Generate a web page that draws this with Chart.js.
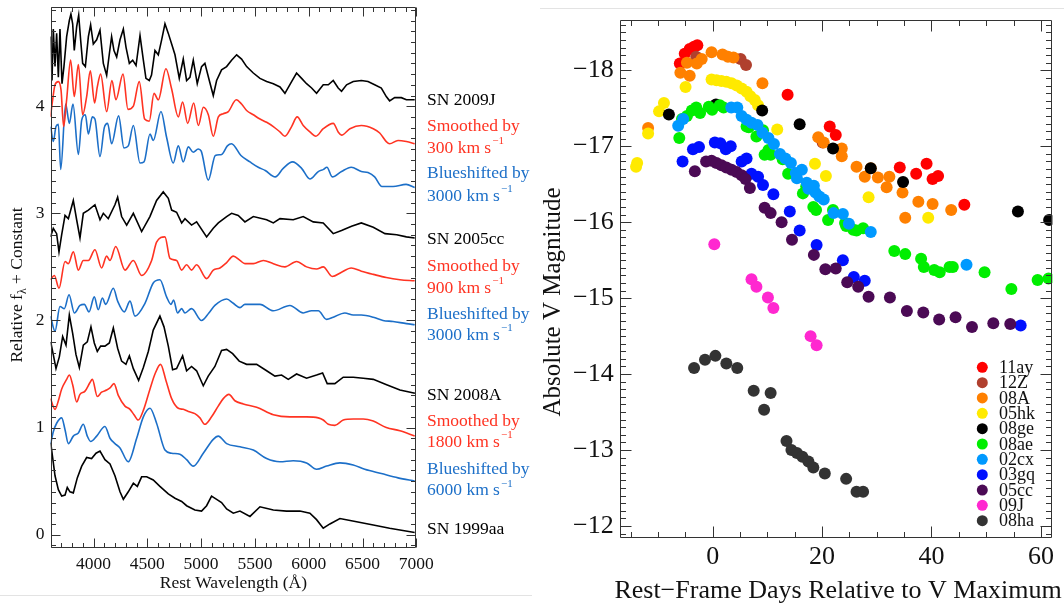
<!DOCTYPE html>
<html>
<head>
<meta charset="utf-8">
<script src="https://cdn.jsdelivr.net/npm/chart.js@4.4.0/dist/chart.umd.min.js"></script>
<style>
  body { margin: 0; background: #fff; }
  #wrap { position: relative; width: 1064px; height: 610px; overflow: hidden; }
  #left { position: absolute; left: 0; top: 0; }
  #right { position: absolute; left: 540px; top: 0; }
  .rule1 { position: absolute; left: 0; top: 595px; width: 532px; height: 1px; background: #e3e3e3; }
  .rule2 { position: absolute; left: 540px; top: 8px; width: 524px; height: 1px; background: #e3e3e3; }
</style>
</head>
<body>
<div id="wrap">
  <canvas id="left" width="540" height="610"></canvas>
  <canvas id="right" width="524" height="610"></canvas>
  <div class="rule1"></div>
  <div class="rule2"></div>
</div>
<script>
// ---- left panel: spectra (rest wavelength in Angstrom, relative flux + constant)
const wave2009J = [3602,3614,3626,3642,3657,3673,3688,3707,3725,3750,3775,3790,3806,3821,3843,3862,3880,3899,3924,3952,3973,3998,4029,4060,4091,4122,4147,4168,4190,4215,4246,4277,4302,4333,4364,4395,4432,4463,4487,4518,4539,4571,4602,4633,4664,4695,4726,4757,4797,4834,4865,4896,4927,4964,5004,5035,5076,5113,5144,5190,5237,5283,5330,5376,5423,5485,5547,5609,5671,5733,5779,5841,5887,5934,5980,6027,6073,6135,6182,6228,6274,6305,6352,6414,6489,6551,6613,6675,6721,6752,6799,6861,6908,6985];
const flux2009J = [4.65,4.24,4.72,4.37,4.68,4.27,4.72,4.21,4.37,4.65,4.80,4.86,4.77,4.52,4.74,4.85,4.62,4.40,4.37,4.65,4.76,4.58,4.62,4.71,4.40,4.29,4.49,4.65,4.52,4.46,4.62,4.72,4.55,4.40,4.43,4.38,4.66,4.43,4.26,4.24,4.29,4.52,4.48,4.62,4.77,4.68,4.58,4.48,4.26,4.44,4.24,4.27,4.43,4.21,4.37,4.40,4.24,4.10,4.24,4.34,4.37,4.43,4.48,4.44,4.37,4.31,4.26,4.23,4.21,4.18,4.12,4.23,4.31,4.26,4.21,4.17,4.12,4.20,4.20,4.24,4.17,4.14,4.20,4.23,4.24,4.23,4.20,4.17,4.09,4.05,4.08,4.08,4.06,4.06];

const waveSmooth300 = [3600,3620,3642,3673,3698,3722,3750,3787,3821,3859,3899,3936,3970,4010,4035,4066,4122,4171,4208,4274,4320,4370,4425,4475,4518,4562,4602,4673,4726,4788,4828,4875,4931,4974,5021,5067,5113,5160,5206,5253,5327,5376,5423,5485,5547,5609,5671,5733,5779,5841,5893,5949,6011,6067,6135,6228,6274,6305,6383,6489,6600,6660,6721,6752,6830,6908,6985];
const fluxSmooth300 = [3.90,4.06,4.20,4.23,4.15,3.81,4.06,4.43,4.09,4.39,3.92,4.09,4.33,4.03,4.18,4.30,3.95,4.24,4.06,4.30,3.97,4.00,4.23,3.88,3.86,4.12,4.06,4.35,4.16,3.90,4.04,3.84,4.03,3.82,3.99,3.92,3.72,3.90,3.93,3.95,4.06,4.02,3.96,3.92,3.88,3.85,3.81,3.76,3.72,3.81,3.90,3.82,3.76,3.72,3.79,3.84,3.76,3.73,3.79,3.82,3.79,3.75,3.67,3.65,3.68,3.67,3.65];

const waveBlue3000a = [3602,3626,3651,3673,3695,3741,3775,3809,3859,3890,3924,3952,3989,4013,4060,4100,4131,4168,4233,4283,4323,4370,4432,4469,4525,4555,4627,4679,4741,4788,4834,4881,4927,4973,5001,5066,5132,5191,5244,5283,5370,5454,5531,5596,5689,5763,5850,5934,6011,6089,6138,6169,6219,6305,6395,6489,6551,6613,6681,6784,6905,6985];
const fluxBlue3000a = [3.81,3.67,3.81,3.83,3.41,4.02,3.84,4.02,3.55,3.87,3.92,3.74,3.90,3.88,3.53,3.80,3.84,3.65,3.91,3.61,3.63,3.82,3.47,3.48,3.74,3.68,3.95,3.71,3.47,3.63,3.48,3.62,3.57,3.60,3.58,3.31,3.54,3.55,3.63,3.65,3.54,3.48,3.43,3.40,3.34,3.42,3.48,3.42,3.32,3.39,3.41,3.43,3.34,3.39,3.43,3.39,3.38,3.34,3.25,3.25,3.27,3.24];

const wave2005cc = [3600,3626,3657,3679,3704,3735,3766,3812,3843,3874,3905,3952,4013,4060,4091,4137,4199,4224,4261,4308,4370,4447,4524,4586,4648,4695,4726,4772,4819,4850,4911,4958,5051,5113,5160,5237,5283,5345,5407,5485,5609,5671,5733,5856,5949,6042,6135,6228,6305,6398,6489,6600,6709,6818,6908,6985];
const flux2005cc = [2.78,2.86,2.81,2.64,2.80,2.98,2.95,3.12,2.94,2.77,3.00,3.03,3.08,2.94,3.00,2.95,3.08,3.15,2.97,2.89,3.00,2.83,2.97,3.12,3.20,3.14,3.03,3.01,2.91,2.95,2.89,2.92,2.78,2.86,2.91,2.97,3.00,2.98,2.92,2.97,2.94,2.91,2.95,2.94,2.97,2.92,2.91,2.81,2.84,2.88,2.91,2.87,2.81,2.80,2.78,2.77];

const waveSmooth900 = [3600,3636,3679,3735,3766,3812,3859,3905,3952,4013,4075,4122,4153,4206,4292,4370,4447,4540,4586,4664,4710,4772,4819,4865,4911,4958,5051,5113,5175,5237,5299,5361,5407,5485,5578,5671,5779,5887,5980,6073,6135,6219,6305,6395,6489,6600,6721,6848,6985];
const fluxSmooth900 = [2.38,2.42,2.30,2.55,2.53,2.64,2.47,2.56,2.56,2.66,2.49,2.60,2.56,2.69,2.47,2.56,2.42,2.56,2.73,2.78,2.58,2.56,2.47,2.52,2.47,2.52,2.39,2.47,2.49,2.54,2.60,2.56,2.53,2.53,2.56,2.53,2.50,2.55,2.50,2.48,2.50,2.41,2.45,2.49,2.46,2.43,2.40,2.38,2.37];

const waveBlue3000b = [3600,3642,3688,3729,3772,3822,3874,3914,3958,4007,4044,4082,4113,4184,4224,4286,4339,4385,4478,4555,4617,4679,4720,4744,4781,4819,4850,4911,5004,5072,5128,5237,5299,5361,5407,5547,5671,5825,5949,6027,6089,6166,6228,6336,6414,6489,6600,6690,6784,6908,6985];
const fluxBlue3000b = [2.04,1.90,2.13,2.11,2.24,2.07,2.14,2.15,2.08,2.22,2.10,2.21,2.15,2.30,2.18,2.08,2.18,2.04,2.16,2.35,2.38,2.22,2.15,2.19,2.07,2.11,2.07,2.11,2.00,2.07,2.14,2.20,2.16,2.12,2.15,2.15,2.09,2.14,2.07,2.09,2.09,2.01,2.03,2.07,2.05,2.05,2.03,2.00,1.99,1.97,1.96];

const wave2008A = [3602,3626,3651,3682,3713,3744,3775,3806,3837,3868,3905,3942,3976,4007,4035,4066,4106,4147,4184,4224,4261,4301,4333,4370,4419,4463,4509,4555,4617,4655,4695,4735,4772,4828,4865,4911,4958,5020,5066,5128,5190,5237,5293,5354,5423,5516,5609,5686,5748,5810,5887,5980,6073,6129,6172,6243,6321,6414,6507,6600,6724,6848,6987];
const flux2008A = [1.80,1.68,1.55,1.66,1.85,1.77,2.05,1.88,1.68,1.56,1.77,1.80,1.94,1.79,1.71,1.76,1.76,1.79,1.93,1.74,1.62,1.59,1.67,1.55,1.44,1.56,1.71,1.91,2.04,1.94,1.76,1.54,1.55,1.67,1.53,1.57,1.53,1.39,1.48,1.57,1.72,1.73,1.69,1.62,1.59,1.59,1.53,1.48,1.49,1.45,1.50,1.46,1.49,1.51,1.41,1.41,1.47,1.47,1.46,1.45,1.40,1.35,1.32];

const waveSmooth1800 = [3600,3642,3673,3704,3750,3775,3806,3843,3874,3921,3967,3989,4035,4075,4122,4153,4190,4230,4292,4339,4376,4416,4463,4525,4571,4623,4673,4726,4788,4834,4881,4942,4989,5035,5097,5159,5206,5258,5314,5392,5516,5671,5825,5980,6089,6135,6182,6243,6321,6414,6507,6600,6721,6848,6985];
const fluxSmooth1800 = [1.27,1.17,1.25,1.36,1.45,1.49,1.40,1.24,1.31,1.34,1.42,1.45,1.29,1.33,1.35,1.37,1.41,1.30,1.20,1.17,1.12,1.07,1.16,1.36,1.50,1.59,1.44,1.27,1.18,1.17,1.15,1.13,1.09,1.03,1.10,1.20,1.27,1.31,1.25,1.22,1.19,1.12,1.10,1.10,1.09,1.07,1.03,1.02,1.07,1.08,1.08,1.06,1.00,0.97,0.92];

const waveBlue6000 = [3602,3626,3657,3704,3735,3766,3812,3859,3905,3942,3973,4029,4106,4153,4199,4246,4323,4401,4463,4525,4586,4664,4726,4803,4865,4927,5020,5113,5159,5237,5361,5485,5609,5733,5856,5980,6073,6166,6290,6414,6521,6675,6830,6985];
const fluxBlue6000 = [0.85,0.96,1.04,1.09,0.98,0.85,0.92,0.95,1.03,0.92,0.87,0.92,1.01,0.90,0.85,0.81,0.68,0.90,1.10,1.18,1.04,0.79,0.76,0.75,0.70,0.64,0.76,0.89,0.92,0.85,0.82,0.79,0.71,0.68,0.69,0.67,0.61,0.64,0.67,0.65,0.61,0.57,0.53,0.50];

const wave1999aa = [3602,3620,3642,3673,3704,3735,3756,3781,3812,3849,3890,3936,3982,4023,4060,4106,4153,4199,4246,4277,4323,4370,4407,4447,4494,4555,4617,4695,4757,4819,4865,4942,5004,5051,5097,5144,5190,5237,5299,5361,5454,5547,5671,5794,5918,6011,6073,6135,6197,6290,6445,6600,6752,6985];
const flux1999aa = [0.86,0.72,0.55,0.42,0.36,0.37,0.44,0.40,0.39,0.53,0.64,0.72,0.71,0.76,0.78,0.70,0.66,0.55,0.40,0.33,0.40,0.48,0.45,0.54,0.54,0.51,0.45,0.38,0.34,0.31,0.27,0.23,0.22,0.27,0.36,0.33,0.30,0.24,0.20,0.22,0.17,0.26,0.23,0.22,0.22,0.20,0.14,0.06,0.10,0.15,0.12,0.09,0.06,0.02];

const waveTicks = [4000, 4500, 5000, 5500, 6000, 6500, 7000];
const fluxTicks = [0, 1, 2, 3, 4];

// ---- right panel: V-band light curves (days from V max, absolute V mag)
const days11ay = [-6.0,-5.1,-4.2,-3.4,-2.8,13.7,21.4,22.5,34.2,37.2,39.1,40.2,41.2,46.0];
const mag11ay  = [-18.09,-18.22,-18.28,-18.31,-18.33,-17.68,-17.26,-17.15,-16.72,-16.64,-16.77,-16.57,-16.61,-16.23];
const days12Z = [-3.0,5.1,6.1,20.1];
const mag12Z  = [-18.18,-18.15,-18.07,-17.05];
const days08A = [-11.8,-5.9,-4.7,-4.2,-2.9,-2.0,-0.2,1.8,2.8,3.8,9.1,19.3,20.3,23.6,23.6,26.3,27.8,28.9,30.2,31.8,32.3,34.7,35.2,37.6,40.2,43.6];
const mag08A  = [-17.24,-17.97,-18.10,-17.93,-18.09,-18.15,-18.24,-18.21,-18.18,-18.17,-17.83,-17.12,-17.05,-16.97,-16.87,-16.73,-16.60,-16.71,-16.59,-16.46,-16.60,-16.39,-16.06,-16.27,-16.24,-16.16];
const days05hk = [-14.0,-13.8,-11.8,-9.8,-8.9,-4.95,-0.2,0.7,1.6,2.5,3.45,4.4,5.3,6.2,6.9,7.7,8.3,11.8,18.7,20.7,28.5,39.4];
const mag05hk  = [-16.73,-16.78,-17.17,-17.46,-17.57,-17.78,-17.88,-17.87,-17.86,-17.85,-17.83,-17.80,-17.76,-17.72,-17.66,-17.61,-17.54,-17.22,-16.77,-16.61,-16.33,-16.06];
const days08ge = [-8.0,0.6,9.05,15.9,22.0,28.9,34.8,55.8,61.5];
const mag08ge  = [-17.42,-17.55,-17.47,-17.29,-16.97,-16.71,-16.53,-16.14,-16.03];
const days08ae = [-6.1,-5.6,-4.7,-3.8,-3.0,-2.3,-0.7,-0.1,1.3,2.0,6.2,6.6,8.0,9.2,9.5,10.2,10.6,12.8,13.8,16.5,17.1,18.4,18.9,21.1,22.0,24.2,24.4,25.7,26.3,27.5,33.2,35.2,38.1,38.6,40.5,41.5,43.3,43.9,49.7,54.6,59.4,61.4];
const mag08ae  = [-17.11,-17.36,-17.40,-17.47,-17.51,-17.44,-17.52,-17.48,-17.54,-17.51,-17.26,-17.25,-17.13,-17.21,-16.89,-16.95,-16.89,-16.83,-16.64,-16.38,-16.47,-16.20,-16.16,-16.03,-16.16,-15.99,-15.95,-15.90,-15.89,-15.92,-15.62,-15.58,-15.52,-15.41,-15.37,-15.34,-15.41,-15.41,-15.34,-15.12,-15.24,-15.26];
const days02cx = [-6.3,-5.4,3.4,4.5,5.3,6.2,7.1,8.2,9.1,10.2,11.2,12.3,13.3,14.3,15.2,15.4,16.3,17.2,17.5,18.5,18.8,19.5,20.3,22.1,23.8,24.9,28.9,46.4];
const mag02cx  = [-17.27,-17.36,-17.51,-17.51,-17.40,-17.35,-17.31,-17.28,-17.18,-17.11,-17.03,-16.90,-16.84,-16.78,-16.65,-16.58,-16.69,-16.52,-16.44,-16.48,-16.39,-16.34,-16.30,-16.12,-16.11,-15.98,-15.87,-15.44];
const days03gq = [-5.5,-3.6,-2.5,0.4,1.4,2.4,3.3,5.3,6.2,7.1,8.3,9.2,11.1,14.1,15.9,19.0,23.8,25.8,27.8,56.3];
const mag03gq  = [-16.80,-16.96,-16.99,-17.05,-17.04,-16.96,-17.00,-16.80,-16.84,-16.64,-16.60,-16.49,-16.37,-16.14,-15.89,-15.70,-15.50,-15.28,-15.23,-14.64];
const days05cc = [-3.25,-1.2,-0.2,0.7,1.6,2.5,3.45,4.4,5.3,6.0,6.8,9.5,10.6,12.6,14.5,18.5,20.6,22.5,24.6,26.6,28.5,32.4,35.5,38.5,41.4,44.4,47.4,51.3,54.4];
const mag05cc  = [-16.67,-16.80,-16.81,-16.78,-16.75,-16.72,-16.69,-16.66,-16.62,-16.57,-16.45,-16.19,-16.12,-16.00,-15.77,-15.57,-15.38,-15.39,-15.21,-15.15,-15.02,-15.01,-14.83,-14.81,-14.72,-14.75,-14.62,-14.67,-14.66];
const days09J = [0.3,7.1,8.0,10.1,11.1,17.9,19.0];
const mag09J  = [-15.71,-15.25,-15.15,-15.01,-14.87,-14.50,-14.38];
const days08ha = [-3.4,-1.4,0.5,2.5,4.5,7.5,9.4,10.6,13.5,14.4,15.4,16.4,17.5,18.4,20.5,24.4,26.3,27.5];
const mag08ha  = [-14.08,-14.19,-14.24,-14.14,-14.08,-13.78,-13.53,-13.75,-13.12,-13.00,-12.96,-12.91,-12.85,-12.77,-12.69,-12.62,-12.45,-12.45];

const snNames = ['11ay', '12Z', '08A', '05hk', '08ge', '08ae', '02cx', '03gq', '05cc', '09J', '08ha'];
const dayTicks = [0, 20, 40, 60];
const magTicks = [-18, -17, -16, -15, -14, -13, -12];

// ---- styling
const SERIF = "'Liberation Serif', 'Times New Roman', serif";
const BLACK = '#000000', RED = '#ff3322', BLUE = '#1c6fc8';
const snColors = ['#ff0000', '#b0402e', '#ff8000', '#ffea00', '#000000', '#00ee00', '#0099ff', '#0010ff', '#4b0a55', '#ff28d0', '#333333'];

Chart.defaults.font.family = SERIF;
Chart.defaults.color = '#111';

function pairs(xs, ys) {
  const n = Math.min(xs.length, ys.length);
  const out = [];
  for (let i = 0; i < n; i++) out.push({ x: xs[i], y: ys[i] });
  return out;
}

function intSteps(min, max, step) {
  const r = [];
  for (let i = Math.ceil(min / step - 1e-9); i <= Math.floor(max / step + 1e-9); i++) r.push(i * step);
  return r;
}

// fixed axis sizes, no extra label padding pushed into the layout
function fixX(h) {
  return s => { s.height = h; s.paddingLeft = 0; s.paddingRight = 0; };
}
function fixY(w) {
  return s => { s.width = w; s.paddingTop = 0; s.paddingBottom = 0; };
}

// box frame with inward major/minor ticks on all four sides
const frameTicks = {
  id: 'frameTicks',
  afterDatasetsDraw(chart, args, o) {
    const { ctx, chartArea: a } = chart;
    const xs = chart.scales.x, ys = chart.scales.y;
    const x0 = Math.round(a.left) + 0.5, x1 = Math.round(a.right) - 0.5;
    const y0 = Math.round(a.top) + 0.5, y1 = Math.round(a.bottom) - 0.5;
    ctx.save();
    ctx.strokeStyle = o.color;
    ctx.lineWidth = 1;
    ctx.beginPath();
    ctx.rect(x0, y0, x1 - x0, y1 - y0);
    const isMajor = (v, m) => Math.abs(v / m - Math.round(v / m)) < 1e-6;
    for (const v of intSteps(xs.min, xs.max, o.xMinor)) {
      const len = isMajor(v, o.xMajor) ? o.majorLen : o.minorLen;
      const px = Math.round(xs.getPixelForValue(v)) + 0.5;
      ctx.moveTo(px, y1); ctx.lineTo(px, y1 - len);
      ctx.moveTo(px, y0); ctx.lineTo(px, y0 + len);
    }
    for (const v of intSteps(ys.min, ys.max, o.yMinor)) {
      const len = isMajor(v, o.yMajor) ? o.majorLen : o.minorLen;
      const py = Math.round(ys.getPixelForValue(v)) + 0.5;
      ctx.moveTo(x0, py); ctx.lineTo(x0 + len, py);
      ctx.moveTo(x1, py); ctx.lineTo(x1 - len, py);
    }
    ctx.stroke();
    ctx.restore();
  }
};

// ---- left chart
const sideLabels = [
  { text: 'SN 2009J', at: 4.05, color: BLACK },
  { text: 'Smoothed by', at: 3.81, color: RED },
  { text: '300 km s', sup: '−1', at: 3.61, color: RED },
  { text: 'Blueshifted by', at: 3.37, color: BLUE },
  { text: '3000 km s', sup: '−1', at: 3.16, color: BLUE },
  { text: 'SN 2005cc', at: 2.76, color: BLACK },
  { text: 'Smoothed by', at: 2.50, color: RED },
  { text: '900 km s', sup: '−1', at: 2.30, color: RED },
  { text: 'Blueshifted by', at: 2.06, color: BLUE },
  { text: '3000 km s', sup: '−1', at: 1.86, color: BLUE },
  { text: 'SN 2008A', at: 1.30, color: BLACK },
  { text: 'Smoothed by', at: 1.06, color: RED },
  { text: '1800 km s', sup: '−1', at: 0.86, color: RED },
  { text: 'Blueshifted by', at: 0.61, color: BLUE },
  { text: '6000 km s', sup: '−1', at: 0.41, color: BLUE },
  { text: 'SN 1999aa', at: 0.05, color: BLACK }
];

const spectraText = {
  id: 'spectraText',
  afterDraw(chart) {
    const { ctx, chartArea: a, scales: { y } } = chart;
    ctx.save();
    ctx.textBaseline = 'middle';
    ctx.textAlign = 'left';
    for (const lab of sideLabels) {
      const py = y.getPixelForValue(lab.at);
      ctx.fillStyle = lab.color;
      ctx.font = '17.5px ' + SERIF;
      ctx.fillText(lab.text, 427, py);
      if (lab.sup) {
        const w = ctx.measureText(lab.text).width;
        ctx.font = '11px ' + SERIF;
        ctx.fillText(lab.sup, 427 + w + 1, py - 7);
      }
    }
    ctx.fillStyle = '#111';
    ctx.font = '17.5px ' + SERIF;
    ctx.textAlign = 'center';
    ctx.fillText('Rest Wavelength (Å)', (a.left + a.right) / 2, 583.7);

    ctx.translate(17.5, 285);
    ctx.rotate(-Math.PI / 2);
    const p1 = 'Relative f', p2 = 'λ', p3 = ' + Constant';
    ctx.font = '17.5px ' + SERIF;
    const w1 = ctx.measureText(p1).width, w3 = ctx.measureText(p3).width;
    ctx.font = '12px ' + SERIF;
    const w2 = ctx.measureText(p2).width;
    let x = -(w1 + w2 + w3) / 2;
    ctx.textAlign = 'left';
    ctx.font = '17.5px ' + SERIF; ctx.fillText(p1, x, 0); x += w1;
    ctx.font = '12px ' + SERIF; ctx.fillText(p2, x, 5); x += w2;
    ctx.font = '17.5px ' + SERIF; ctx.fillText(p3, x, 0);
    ctx.restore();
  }
};

function spectrum(w, f, color, smooth) {
  return {
    data: pairs(w, f),
    borderColor: color,
    borderWidth: 1.6,
    pointRadius: 0,
    tension: smooth ? 0.4 : 0,
    cubicInterpolationMode: smooth ? 'monotone' : 'default'
  };
}

new Chart(document.getElementById('left'), {
  type: 'line',
  data: {
    datasets: [
      spectrum(wave2009J, flux2009J, BLACK, false),
      spectrum(waveSmooth300, fluxSmooth300, RED, true),
      spectrum(waveBlue3000a, fluxBlue3000a, BLUE, true),
      spectrum(wave2005cc, flux2005cc, BLACK, false),
      spectrum(waveSmooth900, fluxSmooth900, RED, true),
      spectrum(waveBlue3000b, fluxBlue3000b, BLUE, true),
      spectrum(wave2008A, flux2008A, BLACK, false),
      spectrum(waveSmooth1800, fluxSmooth1800, RED, true),
      spectrum(waveBlue6000, fluxBlue6000, BLUE, true),
      spectrum(wave1999aa, flux1999aa, BLACK, false)
    ]
  },
  options: {
    responsive: false,
    devicePixelRatio: 1,
    animation: false,
    events: [],
    layout: { padding: { left: 0, right: 123.7, top: 6.6, bottom: 0 } },
    plugins: { legend: { display: false }, tooltip: { enabled: false }, frameTicks: { color: '#333', xMinor: 100, xMajor: 500, yMinor: 0.1, yMajor: 1, majorLen: 9, minorLen: 4.5 } },
    scales: {
      x: {
        type: 'linear', min: 3600, max: 7000,
        afterBuildTicks: s => { s.ticks = waveTicks.map(v => ({ value: v })); },
        afterFit: fixX(62.5),
        grid: { display: false, drawTicks: false }, border: { display: false },
        ticks: { font: { size: 17.5 }, padding: 6, maxRotation: 0, autoSkip: false, callback: v => String(v) }
      },
      y: {
        type: 'linear', min: -0.12, max: 4.93,
        afterBuildTicks: s => { s.ticks = fluxTicks.map(v => ({ value: v })); },
        afterFit: fixY(50.5),
        grid: { display: false, drawTicks: false }, border: { display: false },
        ticks: { font: { size: 17.5 }, padding: 6, callback: v => String(v) }
      }
    }
  },
  plugins: [frameTicks, spectraText]
});

// ---- right chart
const lightCurves = [
  [days11ay, mag11ay], [days12Z, mag12Z], [days08A, mag08A], [days05hk, mag05hk],
  [days08ge, mag08ge], [days08ae, mag08ae], [days02cx, mag02cx], [days03gq, mag03gq],
  [days05cc, mag05cc], [days09J, mag09J], [days08ha, mag08ha]
];

const curveText = {
  id: 'curveText',
  afterDraw(chart) {
    const { ctx } = chart;
    ctx.save();
    ctx.fillStyle = '#111';
    ctx.textBaseline = 'middle';
    ctx.textAlign = 'center';
    ctx.font = '26px ' + SERIF;
    ctx.fillText('Rest\u2212Frame Days Relative to V Maximum', 298, 591);
    ctx.save();
    ctx.translate(13, 302);
    ctx.rotate(-Math.PI / 2);
    ctx.font = '25px ' + SERIF;
    ctx.fillText('Absolute V Magnitude', 0, 0);
    ctx.restore();

    // legend, bottom-right inside the box
    ctx.textAlign = 'left';
    ctx.font = '18px ' + SERIF;
    chart.data.datasets.forEach((ds, i) => {
      const yy = 367.3 + i * 15.34;
      ctx.fillStyle = ds.backgroundColor;
      ctx.beginPath();
      ctx.arc(442.3, yy, 5.5, 0, Math.PI * 2);
      ctx.fill();
      ctx.fillStyle = '#111';
      ctx.fillText(ds.label, 459, yy + 1);
    });
    ctx.restore();
  }
};

new Chart(document.getElementById('right'), {
  type: 'scatter',
  data: {
    datasets: lightCurves.map((c, i) => ({
      label: snNames[i],
      data: pairs(c[0], c[1]),
      backgroundColor: snColors[i],
      borderWidth: 0,
      pointRadius: 6,
      pointHoverRadius: 6,
      order: -i
    }))
  },
  options: {
    responsive: false,
    devicePixelRatio: 1,
    animation: false,
    events: [],
    layout: { padding: { left: 0, right: 11.6, top: 19.5, bottom: 0 } },
    plugins: { legend: { display: false }, tooltip: { enabled: false }, frameTicks: { color: '#333', xMinor: 5, xMajor: 20, yMinor: 0.1, yMajor: 1, majorLen: 11, minorLen: 5.5 } },
    scales: {
      x: {
        type: 'linear', min: -16.9, max: 62.1,
        afterBuildTicks: s => { s.ticks = dayTicks.map(v => ({ value: v })); },
        afterFit: fixX(71.9),
        grid: { display: false, drawTicks: false }, border: { display: false },
        ticks: { font: { size: 26 }, padding: 3, maxRotation: 0, autoSkip: false, callback: v => String(v) }
      },
      y: {
        type: 'linear', reverse: true, min: -18.67, max: -11.84,
        afterBuildTicks: s => { s.ticks = magTicks.map(v => ({ value: v })); },
        afterFit: fixY(80.2),
        grid: { display: false, drawTicks: false }, border: { display: false },
        ticks: { font: { size: 26 }, padding: 6.5, callback: v => (v < 0 ? '\u2212' : '') + Math.abs(v) }
      }
    }
  },
  plugins: [frameTicks, curveText]
});
</script>
</body>
</html>
